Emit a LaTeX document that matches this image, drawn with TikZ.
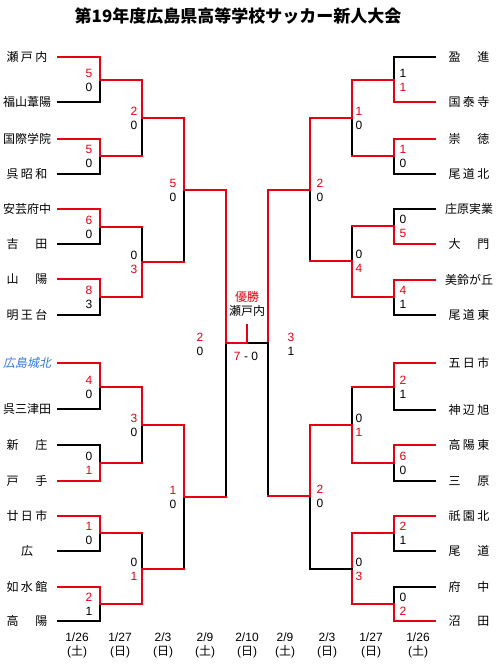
\documentclass[tikz,border=0pt]{standalone}
\usepackage{fontspec}
\setmainfont{Liberation Sans}
\newfontfamily\jp{Noto Sans CJK JP}
\newfontfamily\jpit[FakeSlant=0.2]{Noto Sans CJK JP}
\usepackage{xcolor}
\usepackage{tikz}
\usetikzlibrary{positioning}
\definecolor{wred}{RGB}{230,0,18}
\definecolor{cblue}{RGB}{50,120,220}
\newcommand{\sprd}[1]{\makebox[41pt][s]{#1}}

\begin{document}
\begin{tikzpicture}[
  x=1pt, y=-1pt,
  lteam/.style={font=\jp\fontsize{12}{14}\selectfont, inner sep=0pt, minimum width=62pt, minimum height=14pt},
  rteam/.style={lteam, minimum width=68pt},
  win/.style={font=\fontsize{12}{14}\selectfont, text=wred, inner sep=0pt},
  lose/.style={win, text=black},
  wl/.style={draw=wred, line width=2pt, line cap=rect},
  ll/.style={draw=black, line width=2pt, line cap=rect},
  day/.style={align=center, font=\fontsize{12}{14}\selectfont, inner sep=0pt}
]
\useasboundingbox (0,0) rectangle (502,665);
\node[font=\jp\bfseries\fontsize{17}{20}\selectfont] (title) at (238,16) {第19年度広島県高等学校サッカー新人大会};

% left block
\node[lteam] (l1) at (27,57) {\sprd{瀬\hfill 戸\hfill 内}};
\node[lteam] (l2) at (27,102) {福山葦陽};
\node[lteam] (l3) at (27,139) {国際学院};
\node[lteam] (l4) at (27,174) {\sprd{呉\hfill 昭\hfill 和}};
\node[lteam] (l5) at (27,209) {安芸府中};
\node[lteam] (l6) at (27,244) {\sprd{吉\hfill 田}};
\node[lteam] (l7) at (27,279) {\sprd{山\hfill 陽}};
\node[lteam] (l8) at (27,315) {\sprd{明\hfill 王\hfill 台}};
\node[lteam, font=\jpit\fontsize{12}{14}\selectfont, text=cblue] (l9) at (27,363) {広島城北};
\node[lteam] (l10) at (27,409) {呉三津田};
\node[lteam] (l11) at (27,445) {\sprd{新\hfill 庄}};
\node[lteam] (l12) at (27,481) {\sprd{戸\hfill 手}};
\node[lteam] (l13) at (27,516) {\sprd{廿\hfill 日\hfill 市}};
\node[lteam] (l14) at (27,551) {広};
\node[lteam] (l15) at (27,587) {\sprd{如\hfill 水\hfill 館}};
\node[lteam] (l16) at (27,621) {\sprd{高\hfill 陽}};

% right block
\node[rteam] (r1) at (469,57) {\sprd{盈\hfill 進}};
\node[rteam] (r2) at (469,102) {\sprd{国\hfill 泰\hfill 寺}};
\node[rteam] (r3) at (469,139) {\sprd{崇\hfill 徳}};
\node[rteam] (r4) at (469,174) {\sprd{尾\hfill 道\hfill 北}};
\node[rteam] (r5) at (469,209) {庄原実業};
\node[rteam] (r6) at (469,244) {\sprd{大\hfill 門}};
\node[rteam] (r7) at (469,280) {美鈴が丘};
\node[rteam] (r8) at (469,315) {\sprd{尾\hfill 道\hfill 東}};
\node[rteam] (r9) at (469,363) {\sprd{五\hfill 日\hfill 市}};
\node[rteam] (r10) at (469,410) {\sprd{神\hfill 辺\hfill 旭}};
\node[rteam] (r11) at (469,445) {\sprd{高\hfill 陽\hfill 東}};
\node[rteam] (r12) at (469,481) {\sprd{三\hfill 原}};
\node[rteam] (r13) at (469,516) {\sprd{祇\hfill 園\hfill 北}};
\node[rteam] (r14) at (469,551) {\sprd{尾\hfill 道}};
\node[rteam] (r15) at (469,587) {\sprd{府\hfill 中}};
\node[rteam] (r16) at (469,621) {\sprd{沼\hfill 田}};

% junctions
\coordinate (la1) at (100,80);  \coordinate (la2) at (100,156);
\coordinate (la3) at (100,227); \coordinate (la4) at (100,297);
\coordinate (la5) at (100,387); \coordinate (la6) at (100,463);
\coordinate (la7) at (100,533); \coordinate (la8) at (100,604);
\coordinate (lb1) at (142,118); \coordinate (lb2) at (142,262);
\coordinate (lb3) at (142,425); \coordinate (lb4) at (142,569);
\coordinate (lc1) at (184,190); \coordinate (lc2) at (184,497);
\coordinate (ls) at (226,343);
\coordinate (ra1) at (394,80);  \coordinate (ra2) at (394,156);
\coordinate (ra3) at (394,226); \coordinate (ra4) at (394,297);
\coordinate (ra5) at (394,387); \coordinate (ra6) at (394,463);
\coordinate (ra7) at (394,533); \coordinate (ra8) at (394,604);
\coordinate (rb1) at (352,118); \coordinate (rb2) at (352,261);
\coordinate (rb3) at (352,425); \coordinate (rb4) at (352,569);
\coordinate (rc1) at (310,190); \coordinate (rc2) at (310,496);
\coordinate (rs) at (268,343);
\coordinate (fin) at (247,343);
\coordinate (ftop) at (247,325);

% left lines
\draw[ll] (l2.east) -| (la1);  \draw[wl] (l1.east) -| (la1);
\draw[ll] (l4.east) -| (la2);  \draw[wl] (l3.east) -| (la2);
\draw[ll] (l6.east) -| (la3);  \draw[wl] (l5.east) -| (la3);
\draw[ll] (l8.east) -| (la4);  \draw[wl] (l7.east) -| (la4);
\draw[ll] (l10.east) -| (la5); \draw[wl] (l9.east) -| (la5);
\draw[ll] (l11.east) -| (la6); \draw[wl] (l12.east) -| (la6);
\draw[ll] (l14.east) -| (la7); \draw[wl] (l13.east) -| (la7);
\draw[ll] (l16.east) -| (la8); \draw[wl] (l15.east) -| (la8);
\draw[ll] (la2 -| lb1) -- (lb1); \draw[wl] (la2) -- (la2 -| lb1); \draw[wl] (la1) -| (lb1);
\draw[ll] (la3 -| lb2) -- (lb2); \draw[wl] (la3) -- (la3 -| lb2); \draw[wl] (la4) -| (lb2);
\draw[ll] (la6 -| lb3) -- (lb3); \draw[wl] (la6) -- (la6 -| lb3); \draw[wl] (la5) -| (lb3);
\draw[ll] (la7 -| lb4) -- (lb4); \draw[wl] (la7) -- (la7 -| lb4); \draw[wl] (la8) -| (lb4);
\draw[ll] (lb2 -| lc1) -- (lc1); \draw[wl] (lb2) -- (lb2 -| lc1); \draw[wl] (lb1) -| (lc1);
\draw[ll] (lb4 -| lc2) -- (lc2); \draw[wl] (lb4) -- (lb4 -| lc2); \draw[wl] (lb3) -| (lc2);
\draw[ll] (lc2 -| ls) -- (ls); \draw[wl] (lc2) -- (lc2 -| ls); \draw[wl] (lc1) -| (ls);

% right lines
\draw[ll] (r1.west) -| (ra1);  \draw[wl] (r2.west) -| (ra1);
\draw[ll] (r4.west) -| (ra2);  \draw[wl] (r3.west) -| (ra2);
\draw[ll] (r5.west) -| (ra3);  \draw[wl] (r6.west) -| (ra3);
\draw[ll] (r8.west) -| (ra4);  \draw[wl] (r7.west) -| (ra4);
\draw[ll] (r10.west) -| (ra5); \draw[wl] (r9.west) -| (ra5);
\draw[ll] (r12.west) -| (ra6); \draw[wl] (r11.west) -| (ra6);
\draw[ll] (r14.west) -| (ra7); \draw[wl] (r13.west) -| (ra7);
\draw[ll] (r15.west) -| (ra8); \draw[wl] (r16.west) -| (ra8);
\draw[ll] (ra2 -| rb1) -- (rb1); \draw[wl] (ra2) -- (ra2 -| rb1); \draw[wl] (ra1) -| (rb1);
\draw[ll] (ra3 -| rb2) -- (rb2); \draw[wl] (ra3) -- (ra3 -| rb2); \draw[wl] (ra4) -| (rb2);
\draw[ll] (ra5 -| rb3) -- (rb3); \draw[wl] (ra5) -- (ra5 -| rb3); \draw[wl] (ra6) -| (rb3);
\draw[wl] (ra7) -| (rb4); \draw[wl] (ra8) -| (rb4);
\draw[ll] (rb2 -| rc1) -- (rc1); \draw[wl] (rb2) -- (rb2 -| rc1); \draw[wl] (rb1) -| (rc1);
\draw[ll] (rb4) -| (rc2); \draw[wl] (rb3) -| (rc2);
\draw[ll] (rc2 -| rs) -- (rs); \draw[wl] (rc2) -- (rc2 -| rs); \draw[wl] (rc1) -| (rs);

% final
\draw[ll] (fin) -- (rs);
\draw[wl] (ls) -- (fin);
\draw[wl] (fin) -- (ftop);
\node[font=\jp\fontsize{12}{14}\selectfont, text=wred, inner sep=0pt] (champ) at (247,297) {優勝};
\node[font=\jp\fontsize{12}{14}\selectfont, inner sep=0pt] (champn) at (247,311) {瀬戸内};
\node[lose] (fscore) at (246,356) {\textcolor{wred}{7} - 0};

% scores, left
\node[win] (sa1) at (89,73) {5};   \node[lose] (sa1b) at (89,87) {0};
\node[win] (sa2) at (89,149) {5};  \node[lose] (sa2b) at (89,163) {0};
\node[win] (sa3) at (89,220) {6};  \node[lose] (sa3b) at (89,234) {0};
\node[win] (sa4) at (89,290) {8};  \node[lose] (sa4b) at (89,304) {3};
\node[win] (sa5) at (89,380) {4};  \node[lose] (sa5b) at (89,394) {0};
\node[lose] (sa6) at (89,456) {0}; \node[win] (sa6b) at (89,470) {1};
\node[win] (sa7) at (89,526) {1};  \node[lose] (sa7b) at (89,540) {0};
\node[win] (sa8) at (89,597) {2};  \node[lose] (sa8b) at (89,611) {1};
\node[win] (sb1) at (134,111) {2};  \node[lose] (sb1b) at (134,125) {0};
\node[lose] (sb2) at (134,255) {0}; \node[win] (sb2b) at (134,269) {3};
\node[win] (sb3) at (134,418) {3};  \node[lose] (sb3b) at (134,432) {0};
\node[lose] (sb4) at (134,562) {0}; \node[win] (sb4b) at (134,576) {1};
\node[win] (sc1) at (173,183) {5};  \node[lose] (sc1b) at (173,197) {0};
\node[win] (sc2) at (173,490) {1};  \node[lose] (sc2b) at (173,504) {0};
\node[win] (ss) at (200,337) {2};   \node[lose] (ssb) at (200,351) {0};

% scores, right
\node[lose] (ta1) at (403,73) {1}; \node[win] (ta1b) at (403,87) {1};
\node[win] (ta2) at (403,149) {1}; \node[lose] (ta2b) at (403,163) {0};
\node[lose] (ta3) at (403,219) {0}; \node[win] (ta3b) at (403,233) {5};
\node[win] (ta4) at (403,290) {4}; \node[lose] (ta4b) at (403,304) {1};
\node[win] (ta5) at (403,380) {2}; \node[lose] (ta5b) at (403,394) {1};
\node[win] (ta6) at (403,456) {6}; \node[lose] (ta6b) at (403,470) {0};
\node[win] (ta7) at (403,526) {2}; \node[lose] (ta7b) at (403,540) {1};
\node[lose] (ta8) at (403,597) {0}; \node[win] (ta8b) at (403,611) {2};
\node[win] (tb1) at (359,111) {1};  \node[lose] (tb1b) at (359,125) {0};
\node[lose] (tb2) at (359,254) {0}; \node[win] (tb2b) at (359,268) {4};
\node[lose] (tb3) at (359,418) {0}; \node[win] (tb3b) at (359,432) {1};
\node[lose] (tb4) at (359,562) {0}; \node[win] (tb4b) at (359,576) {3};
\node[win] (tc1) at (320,183) {2};  \node[lose] (tc1b) at (320,197) {0};
\node[win] (tc2) at (320,489) {2};  \node[lose] (tc2b) at (320,503) {0};
\node[win] (ts) at (291,337) {3};   \node[lose] (tsb) at (291,351) {1};

% dates
\node[day] (d1) at (77,645) {1/26\\({\jp 土})};
\node[day] (d2) at (120,645) {1/27\\({\jp 日})};
\node[day] (d3) at (163,645) {2/3\\({\jp 日})};
\node[day] (d4) at (205,645) {2/9\\({\jp 土})};
\node[day] (d5) at (247,645) {2/10\\({\jp 日})};
\node[day] (d6) at (285,645) {2/9\\({\jp 土})};
\node[day] (d7) at (327,645) {2/3\\({\jp 日})};
\node[day] (d8) at (371,645) {1/27\\({\jp 日})};
\node[day] (d9) at (418,645) {1/26\\({\jp 土})};
\end{tikzpicture}
\end{document}
